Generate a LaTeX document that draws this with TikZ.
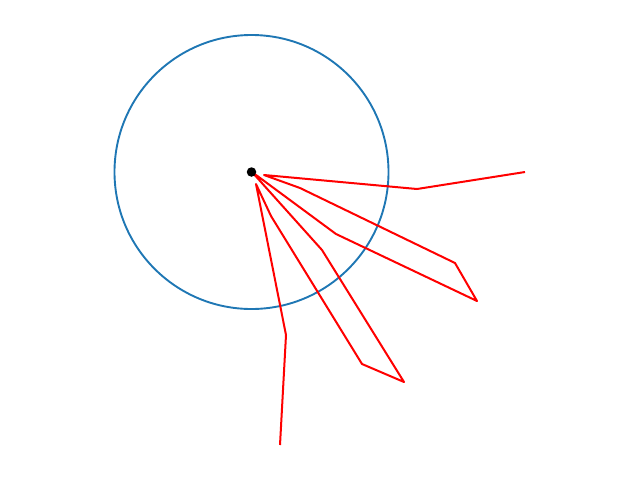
\documentclass[tikz,border=0pt]{standalone}
\usepackage{tikz}
\definecolor{mplblue}{HTML}{1F77B4}
\tikzset{
  ringline/.style={draw=mplblue, line width=1.9pt},
  armline/.style={draw=red, line width=2pt, line join=round},
  basedot/.style={circle, fill=black, inner sep=0pt, minimum size=9.5pt}
}
\begin{document}
\begin{tikzpicture}[x=1pt,y=-1pt]
\useasboundingbox (0,0) rectangle (640,480);
\coordinate (c) at (251.5,172);
\draw[ringline] (c) circle[radius=137];
\coordinate (p1) at (525,172);
\coordinate (p2) at (417,189);
\coordinate (p3) at (264,175);
\coordinate (p4) at (300,188);
\coordinate (p5) at (455,263);
\coordinate (p6) at (477,301);
\coordinate (p7) at (336,234);
\coordinate (p8) at (252,172);
\coordinate (p9) at (322,250);
\coordinate (p10) at (404,382);
\coordinate (p11) at (362,364);
\coordinate (p12) at (271,216);
\coordinate (p13) at (256,184);
\coordinate (p14) at (286,335);
\coordinate (p15) at (280,445);
\draw[armline] (p1) -- (p2) -- (p3) -- (p4) -- (p5) -- (p6) -- (p7) -- (p8) -- (p9) -- (p10) -- (p11) -- (p12) -- (p13) -- (p14) -- (p15);
\node[basedot] (base) at (c) {};
\end{tikzpicture}
\end{document}
